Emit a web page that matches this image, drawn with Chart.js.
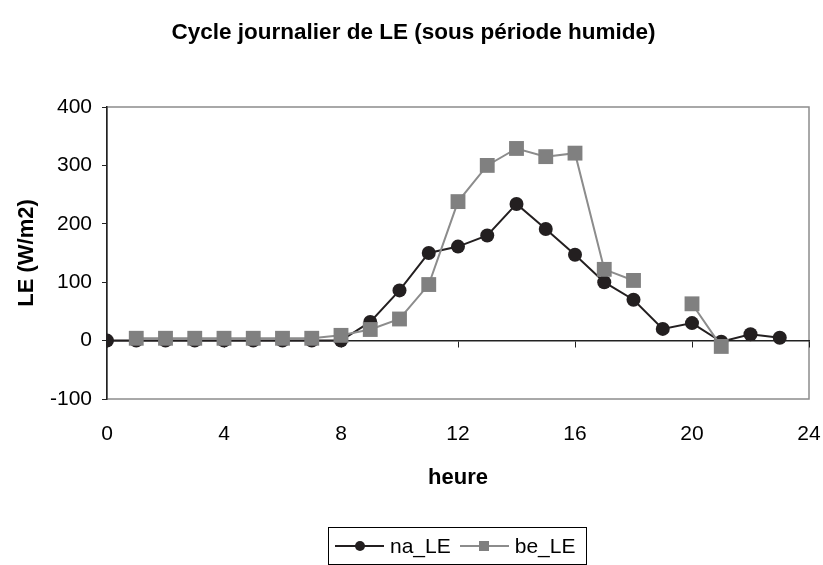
<!DOCTYPE html>
<html lang="fr">
<head>
    <meta charset="UTF-8">
    <title>Cycle journalier de LE</title>
    <script src="https://cdn.jsdelivr.net/npm/chart.js"></script>
    <style>
        body {
            margin: 0;
            background: #fff;
            font-family: "Liberation Sans", Arial, sans-serif;
        }

        .wrap {
            position: relative;
            width: 823px;
            height: 565px;
            overflow: hidden;
        }

        #legend {
            position: absolute;
            left: 328px;
            top: 527px;
            width: 259px;
            height: 38px;
            border: 1px solid #000;
            display: flex;
            align-items: center;
            padding-left: 6px;
            box-sizing: border-box;
            font-size: 21px;
            color: #000;
        }

        .legend-item {
            display: flex;
            align-items: center;
            margin-right: 9px;
        }

        .legend-line {
            position: relative;
            width: 49px;
            height: 2px;
            margin-right: 6px;
        }

        .legend-mark {
            position: absolute;
            left: 50%;
            top: 50%;
            width: 10px;
            height: 10px;
            transform: translate(-50%, -50%);
        }
    </style>
</head>
<body>
<div class="wrap">
    <canvas id="le-chart" width="823" height="565"></canvas>
    <div id="legend"></div>
</div>

<script>
    // heures de la journée et LE moyen (W/m2)
    const hours = [0, 1, 2, 3, 4, 5, 6, 7, 8, 9, 10, 11, 12, 13, 14, 15, 16, 17, 18, 19, 20, 21, 22, 23];
    const naLE = [0, 0, 0, 0, 0, 0, 0, 0, 0, 32, 86, 150, 161, 180, 234, 191, 147, 100, 70, 20, 30, -2, 11, 5];
    const beLE = [null, 4, 4, 4, 4, 4, 4, 4, 9, 19, 37, 96, 238, 300, 329, 315, 321, 122, 103, null, 63, -10, null, null];

    const xTicks = [0, 4, 8, 12, 16, 20, 24];
    const yTicks = [-100, 0, 100, 200, 300, 400];

    const FONT = '"Liberation Sans", Arial, sans-serif';
    Chart.defaults.font.family = FONT;
    Chart.defaults.color = '#000';

    const toPoints = (values) => hours.map((h, i) => ({x: h, y: values[i]}));

    // cadre gris de la zone de tracé
    const plotFrame = {
        id: 'plotFrame',
        beforeDraw(chart) {
            const {ctx, chartArea: a} = chart;
            ctx.save();
            ctx.strokeStyle = '#8c8c8c';
            ctx.lineWidth = 1.5;
            ctx.strokeRect(a.left, a.top, a.right - a.left, a.bottom - a.top);
            ctx.restore();
        }
    };

    // pas de marge supplémentaire pour les étiquettes en bout d'axe
    const noSidePadding = (scale) => {
        scale.paddingLeft = 0;
        scale.paddingRight = 0;
    };

    const datasets = [
        {
            label: 'na_LE',
            data: toPoints(naLE),
            borderColor: '#231f20',
            backgroundColor: '#231f20',
            borderWidth: 2,
            pointStyle: 'circle',
            pointRadius: 7,
            pointBorderWidth: 0,
            order: 2
        },
        {
            label: 'be_LE',
            data: toPoints(beLE),
            borderColor: '#8c8c8c',
            backgroundColor: '#808080',
            borderWidth: 2,
            pointStyle: 'rect',
            pointRadius: 10.5,
            pointBorderWidth: 0,
            order: 1
        }
    ];

    const chart = new Chart(document.getElementById('le-chart'), {
        type: 'line',
        data: {datasets: datasets},
        options: {
            responsive: false,
            animation: false,
            devicePixelRatio: 1,
            spanGaps: false,
            layout: {padding: {left: 18, right: 14, top: 0, bottom: 0}},
            elements: {line: {tension: 0}},
            plugins: {
                legend: {display: false},
                tooltip: {enabled: false},
                title: {
                    display: true,
                    text: 'Cycle journalier de LE (sous période humide)',
                    font: {size: 22.5, weight: 'bold'},
                    padding: {top: 19, bottom: 61}
                }
            },
            scales: {
                x: {
                    type: 'linear',
                    position: 'bottom',
                    min: 0,
                    max: 24,
                    afterBuildTicks: (scale) => { scale.ticks = xTicks.map(v => ({value: v})); },
                    ticks: {font: {size: 21}, padding: 23, maxRotation: 0},
                    grid: {display: false, drawTicks: false},
                    border: {display: false},
                    title: {
                        display: true,
                        text: 'heure',
                        font: {size: 22, weight: 'bold'},
                        padding: {top: 0, bottom: 74}
                    },
                    afterFit: (scale) => {
                        scale.height = 166;
                        noSidePadding(scale);
                    }
                },
                // axe des abscisses croisant en y = 0
                x0: {
                    type: 'linear',
                    display: true,
                    position: {y: 0},
                    min: 0,
                    max: 24,
                    afterBuildTicks: (scale) => { scale.ticks = xTicks.map(v => ({value: v})); },
                    ticks: {display: false},
                    grid: {drawOnChartArea: false, drawTicks: true, tickLength: 6, color: '#222'},
                    border: {color: '#222', width: 1.5},
                    afterFit: noSidePadding
                },
                y: {
                    type: 'linear',
                    min: -100,
                    max: 400,
                    afterBuildTicks: (scale) => { scale.ticks = yTicks.map(v => ({value: v})); },
                    ticks: {font: {size: 21}, padding: 10},
                    grid: {drawOnChartArea: false, drawTicks: true, tickLength: 5, color: '#222'},
                    border: {color: '#222', width: 1.5},
                    title: {
                        display: true,
                        text: 'LE (W/m2)',
                        font: {size: 22, weight: 'bold'},
                        padding: {top: -4, bottom: 0}
                    },
                    afterFit: (scale) => { scale.width = 89; }
                }
            }
        },
        plugins: [plotFrame]
    });

    // légende encadrée sous le graphique
    const legend = document.getElementById('legend');
    chart.data.datasets.forEach((ds) => {
        const item = document.createElement('div');
        item.className = 'legend-item';
        const line = document.createElement('span');
        line.className = 'legend-line';
        line.style.background = ds.borderColor;
        const mark = document.createElement('span');
        mark.className = 'legend-mark';
        mark.style.background = ds.backgroundColor;
        if (ds.pointStyle === 'circle') mark.style.borderRadius = '50%';
        line.appendChild(mark);
        const label = document.createElement('span');
        label.textContent = ds.label;
        item.appendChild(line);
        item.appendChild(label);
        legend.appendChild(item);
    });
</script>
</body>
</html>
